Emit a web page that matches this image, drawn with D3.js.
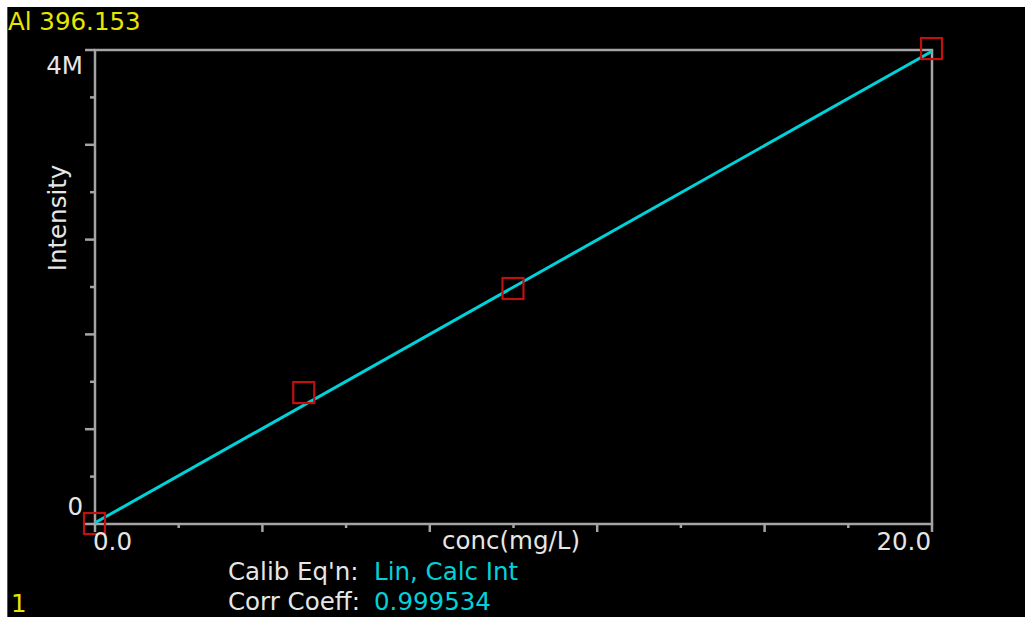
<!DOCTYPE html>
<html><head><meta charset="utf-8">
<script src="https://cdn.jsdelivr.net/npm/d3@7"></script>
<style>html,body{margin:0;padding:0;background:#fff;}svg{display:block;}</style>
</head><body>
<svg id="chart" width="1025" height="617"></svg>
<script>
// ---- data ----
const title = "Al 396.153";
const conc = [0, 5, 10, 20];                       // mg/L
const intensity = [0, 1.105e6, 1.983e6, 4.008e6];  // counts
const fitConc = [0, 20];
const fitIntensity = [0.01e6, 3.99e6];
const xDomain = [0, 20];
const yDomain = [0, 4e6];
const xTickCount = 10;
const yTickCount = 10;
const xTickLabels = ["0.0", "20.0"];
const yTickLabels = ["0", "4M"];
const xAxisTitle = "conc(mg/L)";
const yAxisTitle = "Intensity";
const infoLabels = ["Calib Eq'n:", "Corr Coeff:"];
const infoValues = ["Lin, Calc Int", "0.999534"];
const pageNumber = "1";

// ---- drawing ----
const svg = d3.select("#chart");
const FONT = "DejaVu Sans";
const AX = "#a4a4a4", TXT = "#e6e6e6", CYAN = "#00d2da", YEL = "#e6e600", RED = "#c01010";
const FS = 24.5;

svg.append("rect").attr("x", 0).attr("y", 0).attr("width", 1025).attr("height", 617).attr("fill", "#fff");
svg.append("rect").attr("x", 7).attr("y", 7).attr("width", 1018).attr("height", 610).attr("fill", "#000");
svg.append("line").attr("x1", 7.5).attr("x2", 7.5).attr("y1", 7).attr("y2", 617).attr("stroke", "#555").attr("stroke-width", 1);

const L = 95, R = 932, T = 50, B = 524;
const x = d3.scaleLinear().domain(xDomain).range([L, R]);
const y = d3.scaleLinear().domain(yDomain).range([B, T]);

const xTicks = d3.range(xTickCount + 1).map(i => xDomain[0] + (xDomain[1] - xDomain[0]) * i / xTickCount);
const yTicks = d3.range(yTickCount + 1).map(i => yDomain[0] + (yDomain[1] - yDomain[0]) * i / yTickCount);

const g = svg.append("g");
g.append("rect").attr("x", x(xDomain[0])).attr("y", y(yDomain[1]))
  .attr("width", x(xDomain[1]) - x(xDomain[0])).attr("height", y(yDomain[0]) - y(yDomain[1]))
  .attr("fill", "none").attr("stroke", AX).attr("stroke-width", 2.5);
g.selectAll(".xt").data(xTicks).join("line")
  .attr("x1", d => x(d)).attr("x2", d => x(d))
  .attr("y1", B).attr("y2", (d, i) => B + (i % 2 === 0 ? 8 : 4))
  .attr("stroke", AX).attr("stroke-width", 2.5);
g.selectAll(".yt").data(yTicks).join("line")
  .attr("y1", d => y(d)).attr("y2", d => y(d))
  .attr("x1", L).attr("x2", (d, i) => L - (i % 2 === 0 ? 10 : 5))
  .attr("stroke", AX).attr("stroke-width", 2.5);

const line = d3.line().x(d => x(d[0])).y(d => y(d[1]));
svg.append("path").datum(fitConc.map((c, i) => [c, fitIntensity[i]]))
  .attr("d", line).attr("fill", "none").attr("stroke", CYAN).attr("stroke-width", 3);

svg.selectAll(".pt").data(conc.map((c, i) => [c, intensity[i]])).join("rect")
  .attr("x", d => x(d[0]) - 11).attr("y", d => y(d[1]) - 11)
  .attr("width", 21).attr("height", 21)
  .attr("fill", "none").attr("stroke", RED).attr("stroke-width", 2.2);

const txt = (s, px, py, anchor, color, size) => svg.append("text").text(s)
  .attr("x", px).attr("y", py).attr("text-anchor", anchor || "start")
  .attr("fill", color || TXT).attr("font-family", FONT).attr("font-size", size || FS);

txt(title, 8, 30, "start", YEL, 24.5);
txt(yTickLabels[1], 83, 74, "end");
txt(yTickLabels[0], 83, 515, "end");
txt(xTickLabels[0], 93, 550, "start");
txt(xTickLabels[1], 931, 550, "end");
const xt = txt(xAxisTitle, 511, 549, "middle");
const bb = xt.node().getBBox();
svg.insert("rect", "text").attr("x", bb.x - 2).attr("y", 530).attr("width", bb.width + 4).attr("height", 6).attr("fill", "#000");
svg.append("text").text(yAxisTitle)
  .attr("transform", "translate(66,218) rotate(-90)")
  .attr("text-anchor", "middle").attr("fill", TXT).attr("font-family", FONT).attr("font-size", FS);
const infoY = [580, 610];
infoLabels.forEach((s, i) => {
  txt(s, 228, infoY[i], "start");
  txt(infoValues[i], 374, infoY[i], "start", CYAN);
});
txt(pageNumber, 11, 612, "start", YEL, FS);
</script>
</body></html>
